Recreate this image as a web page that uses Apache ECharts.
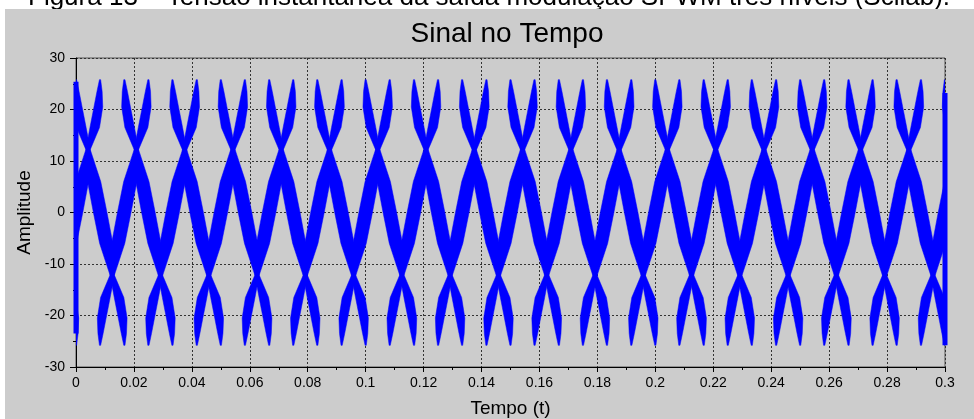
<!DOCTYPE html>
<html><head><meta charset="utf-8">
<script src="https://cdn.jsdelivr.net/npm/echarts@6/dist/echarts.min.js"></script>
<style>html,body{margin:0;padding:0;background:#fff;}#c{width:974px;height:419px;}</style>
</head><body><div id="c"></div>
<script>
// Caption / titles
const caption = 'Figura 13 – Tensão instantânea da saída modulação SPWM três níveis (Scilab).';
const chartTitle = 'Sinal no Tempo';
const xName = 'Tempo (t)';
const yName = 'Amplitude';

// Tick labels
const xTickLabels = ['0','0.02','0.04','0.06','0.08','0.1','0.12','0.14','0.16','0.18','0.2','0.22','0.24','0.26','0.28','0.3'];
const yTickLabels = ['-30','-20','-10','0','10','20','30'];

// Bands of the dense signal:
// bands that fall to the right: peak time (top, +25.8) -> trough time (bottom, -25.8)
const descRightPeak   = [-0.0167, 0, 0.0167, 0.0333, 0.05, 0.0667, 0.0833, 0.1, 0.1167, 0.1333, 0.15, 0.1667, 0.1833, 0.2, 0.2167, 0.2333, 0.25, 0.2667, 0.2833, 0.3];
const descRightTrough = [0, 0.0167, 0.0333, 0.05, 0.0667, 0.0833, 0.1, 0.1167, 0.1333, 0.15, 0.1667, 0.1833, 0.2, 0.2167, 0.2333, 0.25, 0.2667, 0.2833, 0.3, 0.3167];
// bands that fall to the left
const descLeftPeak    = [0.0083, 0.025, 0.0417, 0.0583, 0.075, 0.0917, 0.1083, 0.125, 0.1417, 0.1583, 0.175, 0.1917, 0.2083, 0.225, 0.2417, 0.2583, 0.275, 0.2917, 0.3083];
const descLeftTrough  = [-0.0083, 0.0083, 0.025, 0.0417, 0.0583, 0.075, 0.0917, 0.1083, 0.125, 0.1417, 0.1583, 0.175, 0.1917, 0.2083, 0.225, 0.2417, 0.2583, 0.275, 0.2917];

// Amplitude levels along one band (from peak to trough) and fraction of the way in time
const bandLevels   = [25.8, 23.5, 20.5, 16.5, 12.2, 6, 0, -6, -12.2, -16.5, -20.5, -23.5, -25.8];
const bandFraction = [0, 0.01, 0.035, 0.11, 0.25, 0.375, 0.5, 0.625, 0.75, 0.89, 0.965, 0.99, 1];

// Vertical strokes at both ends of the record
const edgeStart = [[0, -23.5], [0, 25.4]];
const edgeEnd   = [[0.3, -25.8], [0.3, 23.2]];

const FONT = 'Liberation Sans, Arial, sans-serif';
const HALF_W = [0.6, 2.6, 4.4, 4.8, 2.2, 6.6, 6.8, 6.6, 2.2, 4.8, 4.4, 2.6, 0.6];

const bandData = descRightPeak.map((t, i) => [t, descRightTrough[i]])
  .concat(descLeftPeak.map((t, i) => [t, descLeftTrough[i]]));

const chart = echarts.init(document.getElementById('c'), null, {renderer: 'canvas'});
const option = {
  animation: false,
  backgroundColor: '#ffffff',
  graphic: [
    {type: 'text', x: 28, y: 11, z: -20, style: {text: caption, font: '26px ' + FONT, fill: '#000', verticalAlign: 'bottom'}},
    {type: 'rect', z: -10, shape: {x: 5, y: 9, width: 969, height: 410}, style: {fill: '#cccccc'}}
  ],
  title: {
    text: chartTitle, left: 502, top: 15, textAlign: 'center',
    textStyle: {fontFamily: FONT, fontSize: 28, fontWeight: 'normal', color: '#000'}
  },
  grid: {left: 76, top: 58, width: 869, height: 309, outerBoundsMode: 'none', containLabel: false,
         show: true, borderColor: '#555', borderWidth: 1, backgroundColor: 'transparent'},
  xAxis: {
    type: 'value', min: 0, max: 0.3, interval: 0.02,
    name: xName, nameLocation: 'middle', nameGap: 32,
    nameTextStyle: {fontFamily: FONT, fontSize: 19, color: '#000'},
    axisLine: {show: true, onZero: false, lineStyle: {color: '#000', width: 1}},
    axisTick: {show: true, length: 5, lineStyle: {color: '#000'}},
    minorTick: {show: true, splitNumber: 2, length: 3, lineStyle: {color: '#000'}},
    splitLine: {show: true, lineStyle: {color: '#333', type: [2, 2], width: 1}},
    axisLabel: {
      fontFamily: FONT, fontSize: 14, color: '#000', margin: 9,
      formatter: v => xTickLabels[Math.round(v / 0.02)] ?? ''
    }
  },
  yAxis: {
    type: 'value', min: -30, max: 30, interval: 10,
    name: yName, nameLocation: 'middle', nameGap: 38, nameRotate: 90,
    nameTextStyle: {fontFamily: FONT, fontSize: 19, color: '#000'},
    axisLine: {show: true, onZero: false, lineStyle: {color: '#000', width: 1}},
    axisTick: {show: true, length: 6, lineStyle: {color: '#000'}},
    minorTick: {show: true, splitNumber: 2, length: 3, lineStyle: {color: '#000'}},
    splitLine: {show: true, lineStyle: {color: '#333', type: [2, 2], width: 1}},
    axisLabel: {
      fontFamily: FONT, fontSize: 14, color: '#000', margin: 11,
      formatter: v => yTickLabels[Math.round((v + 30) / 10)] ?? ''
    }
  },
  series: [
    {
      type: 'custom', coordinateSystem: 'cartesian2d', clip: true, z: 3,
      data: bandData,
      renderItem: function (params, api) {
        const top = api.value(0), bot = api.value(1);
        const L = [], R = [];
        for (let i = 0; i < bandLevels.length; i++) {
          const t = top + bandFraction[i] * (bot - top);
          const p = api.coord([t, bandLevels[i]]);
          L.push([p[0] - HALF_W[i], p[1]]);
          R.push([p[0] + HALF_W[i], p[1]]);
        }
        return {type: 'polygon', shape: {points: L.concat(R.reverse())}, style: {fill: '#0000ff', stroke: '#0000ff', lineWidth: 0.5}};
      }
    },
    {type: 'line', data: edgeStart, showSymbol: false, symbol: 'none', lineStyle: {color: '#0000ff', width: 5}, clip: true, z: 3},
    {type: 'line', data: edgeEnd, showSymbol: false, symbol: 'none', lineStyle: {color: '#0000ff', width: 5}, clip: true, z: 3}
  ]
};
chart.setOption(option);
</script></body></html>
